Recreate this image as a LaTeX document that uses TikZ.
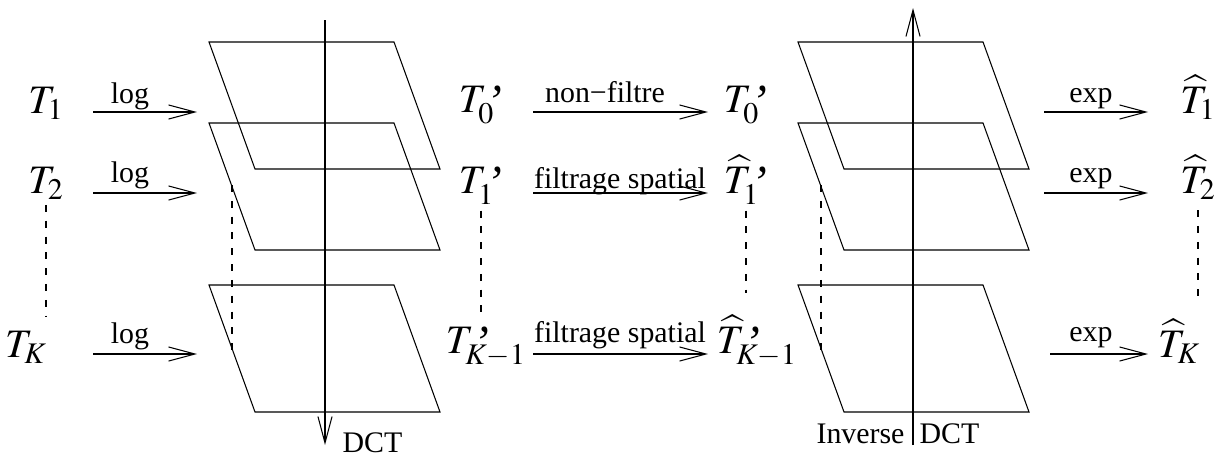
\documentclass[tikz,border=0pt]{standalone}
\usepackage{mathptmx}
\usepackage{fontspec}
\setmainfont{Liberation Serif}
\usetikzlibrary{arrows.meta}
\newcommand{\Tq}{\raisebox{-0.5em}[0pt][0pt]{\fontsize{27}{30}\selectfont\itshape ’}}

\begin{document}
\begin{tikzpicture}[x=0.02cm,y=-0.02cm,line width=0.6pt,
  >={Straight Barb[length=15pt,width=8pt]},
  sym/.style={inner sep=0pt,anchor=base,font=\fontsize{23}{26}\selectfont},
  lbl/.style={inner sep=0pt,anchor=base,font=\fontsize{17}{20}\selectfont},
  dots/.style={dash pattern=on 4pt off 5pt}]
\useasboundingbox (0,0) rectangle (1222,457);
% planes
\foreach \dx in {0,589}{
  \foreach \dy in {0,81,243}{
    \draw (209+\dx,42+\dy) -- (394+\dx,42+\dy) -- (440+\dx,169+\dy) -- (255+\dx,169+\dy) -- cycle;
  }
}
\draw[dots] (232,185) -- (232,355);
\draw[dots] (821,185) -- (821,355);
% axes
\coordinate (dcttop) at (325,20);
\coordinate (dctend) at (325,445);
\draw[->] (dcttop) -- (dctend);
\node[lbl,anchor=base west] (dct) at (342,452) {DCT};
\coordinate (idctbot) at (913,445);
\coordinate (idcttop) at (913,8);
\draw[->] (idctbot) -- (idcttop);
\node[lbl,anchor=base east] (inv) at (905,443) {Inverse};
\node[lbl,anchor=base west] (idct) at (919,443) {DCT};
% images
\node[sym] (t1) at (46,113) {$T_1$};
\node[sym] (t2) at (46,193) {$T_2$};
\node[sym] (tk) at (26,357) {$T_K$};
\node[sym] (u0) at (481,112) {$T^{\Tq}_0$};
\node[sym] (u1) at (481,193) {$T^{\Tq}_1$};
\node[sym] (uk) at (486,353) {$T^{\Tq}_{K-1}$};
\node[sym] (v0) at (746,112) {$T^{\Tq}_0$};
\node[sym] (v1) at (746,193) {$\widehat{T}^{\Tq}_1$};
\node[sym] (vk) at (757,353) {$\widehat{T}^{\Tq}_{K-1}$};
\node[sym] (w1) at (1198,113) {$\widehat{T}_1$};
\node[sym] (w2) at (1198,193) {$\widehat{T}_2$};
\node[sym] (wk) at (1179,357) {$\widehat{T}_K$};
\draw[dots] ([yshift=-3pt]t2.south) -- ([yshift=8pt]t2.south |- tk.north);
\draw[dots] ([yshift=-3pt]u1.south) -- ([yshift=8pt]u1.south |- uk.north);
\draw[dots] ([yshift=-3pt]v1.south) -- ([yshift=12pt]v1.south |- vk.north);
\draw[dots] ([yshift=-6pt]w2.south) -- ([yshift=12pt]w2.south |- wk.north);
% log
\coordinate (l1a) at (93,112);  \coordinate (l1b) at (197,112);
\coordinate (l2a) at (93,193);  \coordinate (l2b) at (197,193);
\coordinate (lka) at (93,354);  \coordinate (lkb) at (197,354);
\draw[->] (l1a) -- (l1b);
\draw[->] (l2a) -- (l2b);
\draw[->] (lka) -- (lkb);
\node[lbl] (log1) at (130,103) {log};
\node[lbl] (log2) at (130,182) {log};
\node[lbl] (logk) at (130,343) {log};
% filtrage
\coordinate (f0a) at (533,112); \coordinate (f0b) at (708,112);
\coordinate (f1a) at (533,193); \coordinate (f1b) at (708,193);
\coordinate (fka) at (533,354); \coordinate (fkb) at (708,354);
\draw[->] (f0a) -- (f0b);
\draw[->] (f1a) -- (f1b);
\draw[->] (fka) -- (fkb);
\node[lbl] (nf) at (605,102) {non−filtre};
\node[lbl] (fs1) at (620,188) {filtrage spatial};
\node[lbl] (fsk) at (620,342) {filtrage spatial};
% exp
\coordinate (e1a) at (1044,112); \coordinate (e1b) at (1148,112);
\coordinate (e2a) at (1044,193); \coordinate (e2b) at (1148,193);
\coordinate (eka) at (1050,354); \coordinate (ekb) at (1148,354);
\draw[->] (e1a) -- (e1b);
\draw[->] (e2a) -- (e2b);
\draw[->] (eka) -- (ekb);
\node[lbl] (exp1) at (1091,102) {exp};
\node[lbl] (exp2) at (1091,182) {exp};
\node[lbl] (expk) at (1091,341) {exp};
\end{tikzpicture}
\end{document}
